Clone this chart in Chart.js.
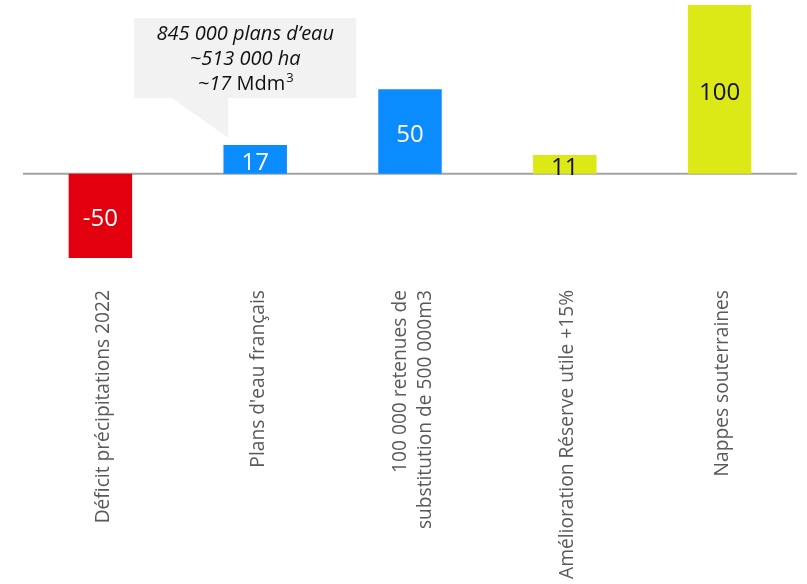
<!DOCTYPE html>
<html>
<head>
<meta charset="utf-8">
<script src="https://cdn.jsdelivr.net/npm/chart.js@4"></script>
<style>
  html, body { margin: 0; padding: 0; background: #fff; }
  #wrap { width: 807px; height: 584px; }
</style>
</head>
<body>
<div id="wrap"><canvas id="barChart" width="807" height="584"></canvas></div>
<script>
// DATA
const categories = [
  "Déficit précipitations 2022",
  "Plans d'eau français",
  ["100 000 retenues de", "substitution de 500 000m3"],
  "Amélioration Réserve utile +15%",
  "Nappes souterraines"
];
const values = [-50, 17, 50, 11, 100];
const barColors = ["#e2000f", "#0a8cff", "#0a8cff", "#dde817", "#dde817"];
const valueColors = ["#ffffff", "#ffffff", "#ffffff", "#111111", "#111111"];
const calloutLines = ["845 000 plans d\u2019eau", "~513 000 ha"];

const tickSize = 19.2;
const tickLineHeight = 1.3;

// value labels centred in each bar
const valueLabels = {
  id: "valueLabels",
  afterDatasetsDraw(chart) {
    const ctx = chart.ctx;
    const meta = chart.getDatasetMeta(0);
    ctx.save();
    ctx.font = "24px 'Open Sans'";
    ctx.textAlign = "center";
    ctx.textBaseline = "middle";
    meta.data.forEach((bar, i) => {
      ctx.fillStyle = valueColors[i];
      ctx.fillText(String(values[i]), bar.x, (bar.y + bar.base) / 2 + 3.5);
    });
    ctx.restore();
  }
};

// centre multi-line rotated tick labels on their tick
const centreTicks = {
  id: "centreTicks",
  beforeDraw(chart) {
    const scale = chart.scales.x;
    const items = scale.getLabelItems(chart.chartArea);
    const lh = tickSize * tickLineHeight;
    items.forEach(item => {
      const n = Array.isArray(item.label) ? item.label.length : 1;
      item.options.translation[0] += 3 - (n - 1) * lh / 2;
    });
  }
};

// zero line + callout
const extras = {
  id: "extras",
  beforeDatasetsDraw(chart) {
    const ctx = chart.ctx;
    const y0 = chart.scales.y.getPixelForValue(0);
    ctx.save();
    ctx.strokeStyle = "#a3a3a3";
    ctx.lineWidth = 2;
    ctx.beginPath();
    ctx.moveTo(chart.chartArea.left, y0);
    ctx.lineTo(chart.chartArea.right, y0);
    ctx.stroke();
    ctx.restore();
  },
  afterDraw(chart) {
    const ctx = chart.ctx;
    const bar = chart.getDatasetMeta(0).data[1];
    const cx = bar.x - 10;
    const tipX = bar.x - 27, tipY = bar.y - 7;
    const left = cx - 111, right = cx + 111, top = 18, bottom = 98;
    ctx.save();
    ctx.fillStyle = "#f2f2f2";
    ctx.beginPath();
    ctx.moveTo(left, top);
    ctx.lineTo(right, top);
    ctx.lineTo(right, bottom);
    ctx.lineTo(tipX, bottom);
    ctx.lineTo(tipX, tipY);
    ctx.lineTo(left + 38, bottom);
    ctx.lineTo(left, bottom);
    ctx.closePath();
    ctx.fill();
    ctx.fillStyle = "#111111";
    ctx.textBaseline = "middle";
    ctx.textAlign = "center";
    ctx.font = "italic 20px 'Open Sans'";
    calloutLines.forEach((t, i) => {
      ctx.fillText(t, cx, 34 + i * 25);
    });
    // third line: "~17 " italic, "Mdm" upright, superscript 3
    ctx.textAlign = "left";
    const a = "~17 ", b = "Mdm", c = "3";
    ctx.font = "italic 20px 'Open Sans'";
    const wa = ctx.measureText(a).width;
    ctx.font = "20px 'Open Sans'";
    const wb = ctx.measureText(b).width;
    ctx.font = "13px 'Open Sans'";
    const wc = ctx.measureText(c).width;
    let x = cx - (wa + wb + wc) / 2;
    const y3 = 34 + 2 * 25;
    ctx.font = "italic 20px 'Open Sans'";
    ctx.fillText(a, x, y3);
    x += wa;
    ctx.font = "20px 'Open Sans'";
    ctx.fillText(b, x, y3);
    x += wb;
    ctx.font = "13px 'Open Sans'";
    ctx.fillText(c, x + 1, y3 - 6);
    ctx.restore();
  }
};

const ctx = document.getElementById("barChart").getContext("2d");

new Chart(ctx, {
  type: "bar",
  data: {
    labels: categories,
    datasets: [{
      data: values,
      backgroundColor: barColors,
      barPercentage: 0.41,
      categoryPercentage: 1
    }]
  },
  options: {
    responsive: false,
    animation: false,
    layout: { padding: { left: 23, right: 10, top: 5, bottom: 0 } },
    plugins: {
      legend: { display: false },
      tooltip: { enabled: false }
    },
    scales: {
      x: {
        grid: { display: false, drawTicks: false },
        border: { display: false },
        ticks: {
          color: "#595959",
          font: { family: "'Open Sans'", size: tickSize, lineHeight: tickLineHeight },
          minRotation: 90,
          maxRotation: 90,
          autoSkip: false,
          padding: 32
        },
        afterFit(scale) { scale.height = 326; }
      },
      y: {
        display: false,
        min: -50,
        max: 100
      }
    }
  },
  plugins: [centreTicks, extras, valueLabels]
});
</script>
</body>
</html>
